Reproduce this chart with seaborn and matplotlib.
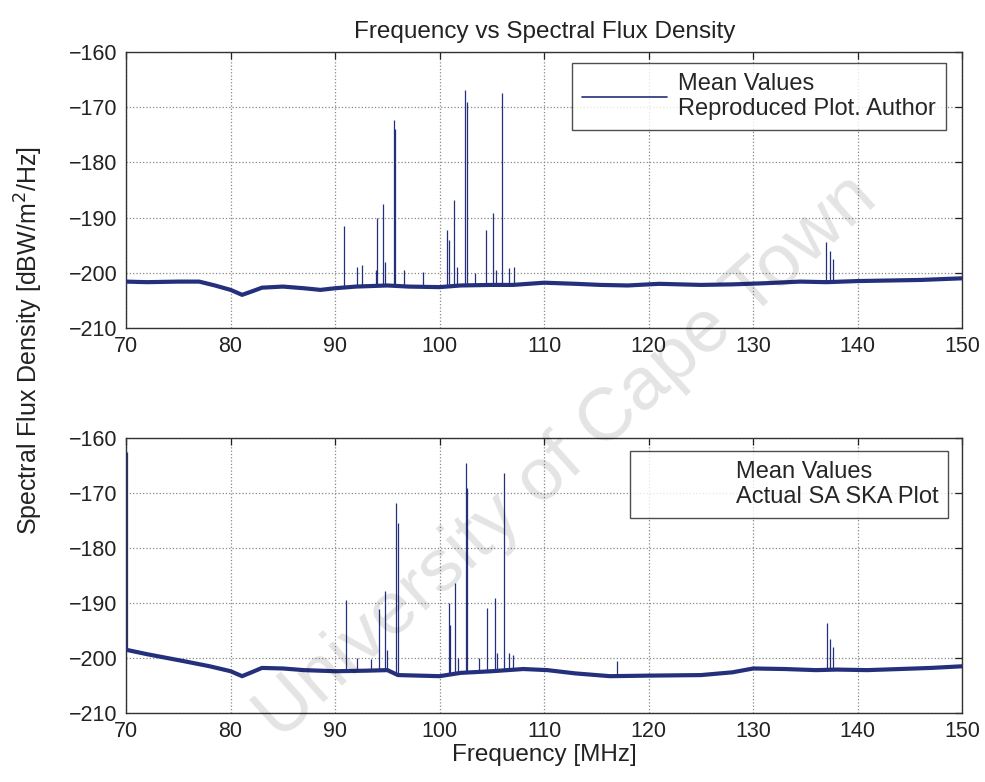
import numpy as np
import pandas as pd
import matplotlib
matplotlib.use('Agg')
import matplotlib.pyplot as plt
import seaborn as sns

# baseline of the mean spectrum (MHz, dBW/m^2/Hz)
top_base_f = [70, 72, 75, 77, 78.5, 80, 81.1, 82, 83, 85, 87, 88.6, 90, 92, 95, 97, 100,
              102, 105, 107, 110, 113, 115.4, 118, 121, 125, 128, 131, 134.5, 137, 140, 143, 146, 150]
top_base_v = [-201.6, -201.7, -201.6, -201.6, -202.3, -203.1, -204.0, -203.4, -202.7, -202.5,
              -202.8, -203.1, -202.8, -202.5, -202.3, -202.5, -202.6, -202.3, -202.2, -202.2,
              -201.8, -202.0, -202.2, -202.3, -202.0, -202.2, -202.1, -201.9, -201.6, -201.7,
              -201.5, -201.4, -201.3, -201.0]

bot_base_f = [70, 72, 75.6, 78, 80, 81.1, 82, 83, 85, 87, 90, 93, 95, 96, 98, 100, 102,
              105, 108, 110.3, 113, 116.3, 120, 125, 128, 130, 133, 136, 138, 140.9, 144, 147, 150]
bot_base_v = [-198.5, -199.3, -200.6, -201.5, -202.4, -203.3, -202.6, -201.8, -201.9, -202.2,
              -202.4, -202.3, -202.2, -203.1, -203.2, -203.3, -202.7, -202.4, -202.0, -202.2,
              -202.8, -203.3, -203.2, -203.1, -202.6, -201.9, -202.0, -202.2, -202.1, -202.2,
              -202.0, -201.8, -201.5]

# narrow RFI spikes: centre frequency and peak level
top_spike_f = [90.8, 92.1, 92.6, 93.9, 94.0, 94.6, 94.8, 95.6, 95.7, 96.6, 98.4, 100.7, 100.9,
               101.4, 101.7, 102.4, 102.6, 103.4, 104.4, 105.1, 105.4, 106.0, 106.6, 107.1,
               137.0, 137.3, 137.6]
top_spike_v = [-191.6, -199.0, -198.6, -199.5, -190.1, -187.5, -198.0, -172.3, -174.0, -199.5,
               -199.8, -192.3, -194.0, -186.9, -199.0, -166.9, -169.0, -200.0, -192.2, -189.1,
               -199.5, -167.5, -199.2, -199.0, -194.4, -196.0, -197.5]

bot_spike_f = [70.1, 91.0, 92.1, 93.4, 94.2, 94.8, 95.0, 95.8, 96.0, 100.9, 101.0, 101.5,
               101.8, 102.5, 102.6, 103.8, 104.5, 105.3, 105.5, 106.2, 106.6, 107.0, 117.0,
               137.1, 137.3, 137.6]
bot_spike_v = [-162.5, -189.4, -200.0, -200.2, -191.0, -187.9, -198.5, -171.8, -175.5, -190.0,
               -194.0, -186.3, -200.0, -164.5, -169.0, -200.0, -190.9, -189.1, -199.0, -166.4,
               -199.0, -199.5, -200.5, -193.6, -196.5, -198.0]

x_ticks = [70, 80, 90, 100, 110, 120, 130, 140, 150]
y_ticks = [-160, -170, -180, -190, -200, -210]

line_color = '#25307c'
text_color = '#222222'

sns.set_theme(style='white')
plt.rcParams['font.family'] = ['Liberation Sans', 'DejaVu Sans']


def draw_panel(ax, base_f, base_v, spike_f, spike_v, label, hide_handle, anchor):
    df = pd.DataFrame({'f': base_f, 'v': base_v})
    ax.vlines(spike_f, np.interp(spike_f, base_f, base_v), spike_v,
              color=line_color, lw=0.9, zorder=3)
    sns.lineplot(data=df, x='f', y='v', ax=ax, color=line_color, lw=3.0,
                 label=label, zorder=4)
    ax.set_xlim(70, 150)
    ax.set_ylim(-210, -160)
    ax.set_xticks(x_ticks)
    ax.set_yticks(y_ticks)
    ax.tick_params(direction='in', top=True, right=True, labelsize=15.5,
                   length=5, width=0.9, colors=text_color, pad=6)
    ax.grid(True, linestyle=':', color='#888888', lw=0.9)
    for s in ax.spines.values():
        s.set_color('#333333')
        s.set_linewidth(1.0)
    ax.set_xlabel('')
    ax.set_ylabel('')
    leg = ax.legend(loc='upper right', bbox_to_anchor=anchor, borderaxespad=0,
                    fontsize=17, frameon=True, fancybox=False, handlelength=3.6,
                    handletextpad=0.5, borderpad=0.4, labelspacing=0.2)
    leg.get_frame().set_edgecolor(text_color)
    leg.get_frame().set_linewidth(1.0)
    for h in leg.legend_handles:
        if hide_handle:
            h.set_visible(False)
        else:
            h.set_linewidth(1.2)
    return ax


fig = plt.figure(figsize=(9.85, 7.82), dpi=100)
ax1 = fig.add_axes([0.128, 0.5806, 0.849, 0.3529])
ax2 = fig.add_axes([0.128, 0.0882, 0.849, 0.3517])

draw_panel(ax1, top_base_f, top_base_v, top_spike_f, top_spike_v,
           'Mean Values\nReproduced Plot. Author', False, (0.98, 0.959))
draw_panel(ax2, bot_base_f, bot_base_v, bot_spike_f, bot_spike_v,
           'Mean Values\nActual SA SKA Plot', True, (0.983, 0.951))

ax1.set_title('Frequency vs Spectral Flux Density', fontsize=17.5, pad=10, color=text_color)
ax2.set_xlabel('Frequency [MHz]', fontsize=17.5, color=text_color, labelpad=1)
fig.text(0.029, 0.564, 'Spectral Flux Density [dBW/m$^2$/Hz]', rotation=90,
         ha='center', va='center', fontsize=18, color=text_color)

# watermark
fig.text(0.575, 0.415, 'University of Cape Town', rotation=42, ha='center', va='center',
         fontsize=54, color='black', alpha=0.11, zorder=10)

fig.savefig('out.png', dpi=100)
